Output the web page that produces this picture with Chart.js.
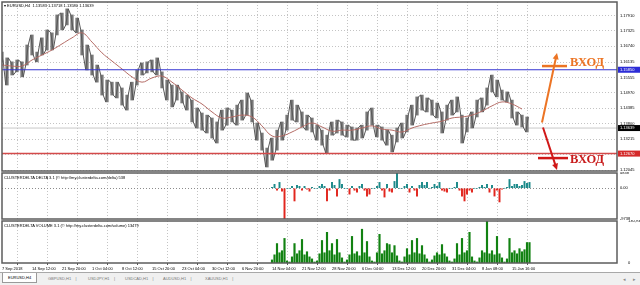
<!DOCTYPE html>
<html lang="ru">

<head>
    <meta charset="UTF-8">
    <meta name="viewport" content="width=device-width, initial-scale=1.0">
    <title>EURUSD,H4</title>
    <script src="https://cdn.jsdelivr.net/npm/chart.js"></script>
    <style>
        body { margin: 0; background: #fff; font-family: "Liberation Sans", Arial, sans-serif; }
        .janela { position: relative; width: 640px; height: 285px; overflow: hidden; background: #fff; }
        .janela canvas { position: absolute; left: 0; }
        .legenda { position: absolute; font-size: 4px; line-height: 5px; color: #000; white-space: nowrap; }
        .vhod { position: absolute; font-family: "Liberation Serif", serif; font-weight: bold; font-size: 12.5px; line-height: 13px; }
        .abas { position: absolute; left: 0; top: 272px; width: 640px; height: 13px; background: #f0f0f0; border-top: 1px solid #a8a8a8; }
        .aba { position: absolute; top: 3px; font-size: 4px; line-height: 6px; color: #777; white-space: nowrap; }
        .aba.ativa { top: 0; left: 2px; height: 9px; line-height: 9px; padding: 0 5px; background: #fff; border: 1px solid #9a9a9a; border-top: none; color: #000; }
        .seta { position: absolute; top: 3px; font-size: 5px; color: #888; }
    </style>
</head>

<body>
    <div class="janela">
        <canvas id="mainChart" width="640" height="172" style="top:0"></canvas>
        <canvas id="deltaChart" width="640" height="48" style="top:172px"></canvas>
        <canvas id="volChart" width="640" height="53" style="top:220px"></canvas>

        <div class="legenda" style="left:4px; top:3px">&#9662; EURUSD,H4 &nbsp;1.13583 1.13718 1.13580 1.13639</div>
        <div class="legenda" style="left:4px; top:175px">CLUSTERDELTA DELTA 3.1 (© http://my.clusterdelta.com/delta) 538</div>
        <div class="legenda" style="left:4px; top:223px">CLUSTERDELTA VOLUME 3.1 (© http://my.clusterdelta.com/volume) 13479</div>

        <div class="vhod" style="left:570px; top:56px; color:#ec7424">ВХОД</div>
        <div class="vhod" style="left:570px; top:153px; color:#c81c1c">ВХОД</div>

        <div class="abas">
            <div class="aba ativa">EURUSD,H4</div>
            <div class="aba" style="left:48px">GBPUSD,H1 &nbsp; &nbsp;|</div>
            <div class="aba" style="left:88px">USDJPY,H1 &nbsp; &nbsp;|</div>
            <div class="aba" style="left:125px">USDCAD,H1 &nbsp; &nbsp;|</div>
            <div class="aba" style="left:163px">AUDUSD,H1 &nbsp; &nbsp;|</div>
            <div class="aba" style="left:205px">XAUUSD,H1 &nbsp; &nbsp;|</div>
            <div class="seta" style="left:623px">&#9666;</div>
            <div class="seta" style="left:633px">&#9656;</div>
        </div>
    </div>
</body>

</html>
<script> // dados do grafico

    // eixo do tempo: cada slot ~ 5 barras H4, um label a cada 6 slots
    var timeLabels = ['7 Sep 2018', '14 Sep 12:00', '21 Sep 20:00', '1 Oct 04:00', '8 Oct 12:00', '15 Oct 20:00',
        '23 Oct 04:00', '30 Oct 12:00', '6 Nov 20:00', '14 Nov 04:00', '21 Nov 12:00', '28 Nov 20:00',
        '6 Dec 04:00', '13 Dec 12:00', '20 Dec 20:00', '31 Dec 04:00', '8 Jan 08:00', '15 Jan 16:00'];
    var slotsPerLabel = 6;
    var totalSlots = 123;

    var priceTicks = [1.17910, 1.17325, 1.16740, 1.16135, 1.15555, 1.14970, 1.14385, 1.13800, 1.13215, 1.12630, 1.12045];

    // maximas e minimas por slot
    var priceHigh = [
        1.1652, 1.1630, 1.1615, 1.1622, 1.1615, 1.1679, 1.1717, 1.1652, 1.1706, 1.1736,
        1.1725, 1.1793, 1.1800, 1.1816, 1.1793, 1.1781, 1.1736, 1.1679, 1.1641, 1.1603,
        1.1565, 1.1546, 1.1538, 1.1538, 1.1516, 1.1489, 1.1538, 1.1584, 1.1611, 1.1615,
        1.1622, 1.1630, 1.1577, 1.1546, 1.1527, 1.1527, 1.1501, 1.1489, 1.1470, 1.1440,
        1.1421, 1.1413, 1.1402, 1.1387, 1.1432, 1.1440, 1.1432, 1.1451, 1.1470, 1.1497,
        1.1470, 1.1383, 1.1345, 1.1288, 1.1326, 1.1356, 1.1387, 1.1413, 1.1470, 1.1451,
        1.1425, 1.1413, 1.1402, 1.1375, 1.1356, 1.1337, 1.1387, 1.1394, 1.1387, 1.1375,
        1.1368, 1.1364, 1.1375, 1.1425, 1.1440, 1.1375, 1.1368, 1.1356, 1.1337, 1.1364,
        1.1383, 1.1413, 1.1451, 1.1482, 1.1489, 1.1478, 1.1470, 1.1459, 1.1425, 1.1451,
        1.1470, 1.1482, 1.1413, 1.1402, 1.1425, 1.1470, 1.1478, 1.1516, 1.1565, 1.1546,
        1.1508, 1.1501, 1.1470, 1.1425, 1.1413, 1.1406
    ];
    var priceLow = [
        1.1615, 1.1527, 1.1565, 1.1577, 1.1558, 1.1603, 1.1641, 1.1615, 1.1641, 1.1660,
        1.1660, 1.1717, 1.1736, 1.1755, 1.1736, 1.1725, 1.1641, 1.1584, 1.1565, 1.1538,
        1.1489, 1.1463, 1.1489, 1.1478, 1.1451, 1.1432, 1.1470, 1.1527, 1.1565, 1.1573,
        1.1577, 1.1565, 1.1516, 1.1470, 1.1444, 1.1470, 1.1459, 1.1432, 1.1387, 1.1364,
        1.1356, 1.1345, 1.1326, 1.1307, 1.1356, 1.1375, 1.1387, 1.1375, 1.1394, 1.1413,
        1.1387, 1.1318, 1.1280, 1.1216, 1.1242, 1.1280, 1.1318, 1.1356, 1.1394, 1.1387,
        1.1368, 1.1356, 1.1349, 1.1318, 1.1299, 1.1269, 1.1337, 1.1345, 1.1337, 1.1330,
        1.1318, 1.1318, 1.1326, 1.1356, 1.1375, 1.1330, 1.1318, 1.1299, 1.1273, 1.1311,
        1.1326, 1.1349, 1.1375, 1.1413, 1.1432, 1.1425, 1.1413, 1.1402, 1.1345, 1.1394,
        1.1413, 1.1425, 1.1307, 1.1349, 1.1364, 1.1406, 1.1425, 1.1451, 1.1501, 1.1482,
        1.1470, 1.1463, 1.1402, 1.1375, 1.1368, 1.1349
    ];

    // media movel, um valor a cada 2 slots
    var maStep = 2;
    var maValues = [
        1.1603, 1.1599, 1.1599, 1.1622, 1.1641, 1.1660, 1.1683, 1.1706, 1.1725, 1.1690,
        1.1649, 1.1618, 1.1588, 1.1558, 1.1538, 1.1554, 1.1561, 1.1538, 1.1508, 1.1478,
        1.1455, 1.1425, 1.1402, 1.1406, 1.1413, 1.1406, 1.1372, 1.1334, 1.1334, 1.1349,
        1.1368, 1.1383, 1.1368, 1.1352, 1.1356, 1.1356, 1.1364, 1.1372, 1.1360, 1.1356,
        1.1349, 1.1364, 1.1375, 1.1383, 1.1390, 1.1402, 1.1406, 1.1413, 1.1428, 1.1448,
        1.1463, 1.1455, 1.1436
    ];

    var blueLevel = 1.15850;
    var redLevel = 1.12670;
    var lastPrice = 1.13639;

    // clusterdelta: comeca no slot 54, meio slot por valor
    var indStart = 54;
    var indStep = 0.5;
    var deltaValues = [
        310, 1240, -620, 1860, -930, -9738, 0, 0, 620, -4030,
        930, 620, -620, 620, -310, -930, 310, 0, 0, 620,
        1240, 620, -4030, -620, 1860, 930, -2480, 2790, 1240, 0,
        0, -1860, 620, -620, -1240, 620, 1240, -620, -2480, -1860,
        0, 0, 620, 1860, -620, -2790, 1240, -930, -1240, 2170,
        4838, 0, 0, 620, 1240, -1240, 620, -620, -2480, 930,
        1860, 930, 1860, 0, 310, 1240, 620, 1860, -620, -930,
        -1240, 0, 0, 310, 1860, -620, -2480, -4030, -1860, -620,
        -1240, 0, 0, 310, 930, 310, 1240, -1240, 930, -2480,
        -620, -4340, -310, 0, 310, 2790, 620, 1240, 1240, 620,
        930, 2170, 1550, 1860
    ];
    var volumeValues = [
        9600, 25500, 60600, 31900, 38300, 76600, 6400, 3200, 19100, 60600,
        28700, 38300, 73400, 25500, 35100, 19100, 12800, 3200, 6400, 28700,
        70200, 31900, 95700, 38300, 60600, 25500, 73400, 31900, 16000, 3200,
        9600, 25500, 82900, 28700, 35100, 22300, 105300, 31900, 67000, 19100,
        6400, 3200, 31900, 89300, 28700, 38300, 60600, 57400, 31900, 54200,
        22300, 6400, 3200, 19100, 44700, 25500, 70200, 31900, 76600, 28700,
        54200, 25500, 12800, 3200, 9600, 22300, 31900, 25500, 57400, 28700,
        19100, 6400, 3200, 12800, 60600, 25500, 76600, 31900, 38300, 95700,
        19100, 6400, 3200, 16000, 38300, 31900, 130933, 28700, 38300, 25500,
        82900, 28700, 16000, 3200, 12800, 76600, 31900, 38300, 28700, 44700,
        35100, 41500, 63800, 63800
    ];

    // setas de entrada (slot, preco)
    var arrowUp = [108, 1.1385, 111, 1.1649];
    var arrowDown = [108.2, 1.1366, 111, 1.1205];
    var crossUp = [108, 113, 1.1599];
    var crossDown = [107.2, 113.2, 1.1250];

</script>
<script> // desenho

    var fonteMini = { size: 4, family: 'Liberation Sans' };
    var corGrade = '#c4c4c4';

    function ticksTempo(scale) {
        scale.ticks = timeLabels.map(function (t, i) { return { value: i * slotsPerLabel }; });
    }

    // tira o espaco extra que o chart.js reserva pros labels das pontas
    function semSobra(s) {
        s.paddingTop = 0;
        s.paddingBottom = 0;
    }

    function eixoX(mostrarLabels) {
        return {
            type: 'linear', min: 0, max: totalSlots, offset: false,
            afterBuildTicks: ticksTempo,
            ticks: {
                display: mostrarLabels, font: fonteMini, color: '#000', align: 'start',
                maxRotation: 0, autoSkip: false, padding: 1,
                callback: function (v, i) { return timeLabels[i]; }
            },
            grid: { color: corGrade, drawTicks: mostrarLabels, tickLength: 2, tickColor: '#555' },
            border: { display: false, dash: [1, 2] },
            afterFit: function (s) { s.height = mostrarLabels ? 10 : 0; s.paddingLeft = 0; s.paddingRight = 0; }
        };
    }

    var molduraPlugin = {
        id: 'moldura',
        afterDraw: function (chart) {
            var a = chart.chartArea;
            var ctx = chart.ctx;
            ctx.save();
            ctx.strokeStyle = '#5c5c5c';
            ctx.lineWidth = 1.5;
            ctx.strokeRect(a.left, a.top, a.right - a.left, a.bottom - a.top);
            ctx.restore();
        }
    };

    function caixaPreco(chart, valor, fundo) {
        var ctx = chart.ctx;
        var a = chart.chartArea;
        var y = chart.scales.y.getPixelForValue(valor);
        ctx.fillStyle = fundo;
        ctx.fillRect(a.right + 1, y - 3, 22, 6);
        ctx.fillStyle = '#fff';
        ctx.font = '4px "Liberation Sans"';
        ctx.textBaseline = 'middle';
        ctx.fillText(valor.toFixed(5), a.right + 3, y);
    }

    function linha(ctx, x1, y1, x2, y2, cor, w) {
        ctx.strokeStyle = cor;
        ctx.lineWidth = w;
        ctx.beginPath();
        ctx.moveTo(x1, y1);
        ctx.lineTo(x2, y2);
        ctx.stroke();
    }

    function seta(chart, s, cor) {
        var sx = chart.scales.x, sy = chart.scales.y, ctx = chart.ctx;
        var x1 = sx.getPixelForValue(s[0]), y1 = sy.getPixelForValue(s[1]);
        var x2 = sx.getPixelForValue(s[2]), y2 = sy.getPixelForValue(s[3]);
        var ang = Math.atan2(y2 - y1, x2 - x1);
        linha(ctx, x1, y1, x2 - 4 * Math.cos(ang), y2 - 4 * Math.sin(ang), cor, 2);
        ctx.fillStyle = cor;
        ctx.beginPath();
        ctx.moveTo(x2, y2);
        ctx.lineTo(x2 - 7 * Math.cos(ang - 0.45), y2 - 7 * Math.sin(ang - 0.45));
        ctx.lineTo(x2 - 7 * Math.cos(ang + 0.45), y2 - 7 * Math.sin(ang + 0.45));
        ctx.closePath();
        ctx.fill();
    }

    var entradaPlugin = {
        id: 'entrada',
        afterDraw: function (chart) {
            var sx = chart.scales.x, sy = chart.scales.y, ctx = chart.ctx;
            ctx.save();
            caixaPreco(chart, blueLevel, '#2c2cd6');
            caixaPreco(chart, lastPrice, '#000');
            caixaPreco(chart, redLevel, '#d42a2a');
            linha(ctx, sx.getPixelForValue(crossUp[0]), sy.getPixelForValue(crossUp[2]),
                sx.getPixelForValue(crossUp[1]), sy.getPixelForValue(crossUp[2]), '#ec7424', 2.5);
            linha(ctx, sx.getPixelForValue(crossDown[0]), sy.getPixelForValue(crossDown[2]),
                sx.getPixelForValue(crossDown[1]), sy.getPixelForValue(crossDown[2]), '#d01818', 2.5);
            seta(chart, arrowUp, '#ec7424');
            seta(chart, arrowDown, '#d01818');
            ctx.restore();
        }
    };

    // barras high-low + um zigue-zague entre elas pra dar a textura das barras do MT4
    var barrasPreco = [];
    var zigue = [];
    for (var i = 0; i < priceHigh.length; i++) {
        barrasPreco.push({ x: i, y: [priceLow[i], priceHigh[i]] });
        if (i % 2 == 0) {
            zigue.push({ x: i - 0.25, y: priceHigh[i] });
            zigue.push({ x: i + 0.25, y: priceLow[i] });
        } else {
            zigue.push({ x: i - 0.25, y: priceLow[i] });
            zigue.push({ x: i + 0.25, y: priceHigh[i] });
        }
    }
    var pontosMedia = [];
    for (var j = 0; j < maValues.length; j++) {
        pontosMedia.push({ x: j * maStep, y: maValues[j] });
    }
    function nivel(v) {
        return [{ x: 0, y: v }, { x: totalSlots, y: v }];
    }

    new Chart(document.getElementById('mainChart'), {
        type: 'bar',
        data: {
            datasets: [
                { type: 'line', data: nivel(blueLevel), borderColor: '#3434d2', borderWidth: 1, pointRadius: 0, order: 1 },
                { type: 'line', data: nivel(redLevel), borderColor: '#d44a4a', borderWidth: 1.5, pointRadius: 0, order: 1 },
                { type: 'line', data: nivel(lastPrice), borderColor: '#c8c8c8', borderWidth: 1, pointRadius: 0, order: 5 },
                { type: 'line', data: pontosMedia, borderColor: '#b46c66', borderWidth: 1, pointRadius: 0, tension: 0.4, order: 2 },
                { type: 'line', data: zigue, borderColor: '#585858', borderWidth: 1, pointRadius: 0, order: 3 },
                { type: 'bar', data: barrasPreco, backgroundColor: '#7a7a7a', barThickness: 2.6, order: 4 }
            ]
        },
        options: {
            responsive: false,
            animation: false,
            layout: { padding: { left: 2, top: 2, right: 0, bottom: 1 } },
            plugins: { legend: { display: false }, tooltip: { enabled: false } },
            scales: {
                x: eixoX(false),
                y: {
                    position: 'right', min: 1.1201, max: 1.1842,
                    afterBuildTicks: function (s) { s.ticks = priceTicks.map(function (v) { return { value: v }; }); },
                    ticks: { font: fonteMini, color: '#000', padding: 3, callback: function (v) { return v.toFixed(5); } },
                    grid: { color: corGrade, drawTicks: false },
                    border: { display: false, dash: [1, 2] },
                    afterFit: function (s) { s.width = 23; semSobra(s); }
                }
            }
        },
        plugins: [molduraPlugin, entradaPlugin]
    });

    var barrasDelta = deltaValues.map(function (v, k) { return { x: indStart + k * indStep, y: v }; });
    var barrasVolume = volumeValues.map(function (v, k) { return { x: indStart + k * indStep, y: v }; });

    new Chart(document.getElementById('deltaChart'), {
        type: 'bar',
        data: {
            datasets: [{
                data: barrasDelta, barThickness: 1.3,
                backgroundColor: function (c) { return c.raw && c.raw.y < 0 ? '#e2261e' : '#1c8a8a'; }
            }]
        },
        options: {
            responsive: false,
            animation: false,
            layout: { padding: { left: 2, top: 1, right: 0, bottom: 1 } },
            plugins: { legend: { display: false }, tooltip: { enabled: false } },
            scales: {
                x: eixoX(false),
                y: {
                    position: 'right', min: -9738, max: 4838,
                    afterBuildTicks: function (s) { s.ticks = [{ value: 4838 }, { value: 0 }, { value: -9738 }]; },
                    ticks: { font: fonteMini, color: '#000', padding: 3, callback: function (v) { return v === 0 ? '0.00' : String(v); } },
                    grid: { drawTicks: false, color: function (c) { return c.tick && c.tick.value === 0 ? '#8c8c8c' : 'rgba(0,0,0,0)'; } },
                    border: { display: false, dash: [1, 2] },
                    afterFit: function (s) { s.width = 23; semSobra(s); }
                }
            }
        },
        plugins: [molduraPlugin]
    });

    new Chart(document.getElementById('volChart'), {
        type: 'bar',
        data: {
            datasets: [{ data: barrasVolume, barThickness: 1.5, backgroundColor: '#128212' }]
        },
        options: {
            responsive: false,
            animation: false,
            layout: { padding: { left: 2, top: 1, right: 0, bottom: 0 } },
            plugins: { legend: { display: false }, tooltip: { enabled: false } },
            scales: {
                x: eixoX(true),
                y: {
                    position: 'right', min: 0, max: 130933,
                    afterBuildTicks: function (s) { s.ticks = [{ value: 130933 }, { value: 0 }]; },
                    ticks: { font: fonteMini, color: '#000', padding: 3 },
                    grid: { display: false },
                    border: { display: false },
                    afterFit: function (s) { s.width = 23; semSobra(s); }
                }
            }
        },
        plugins: [molduraPlugin]
    });

</script>
